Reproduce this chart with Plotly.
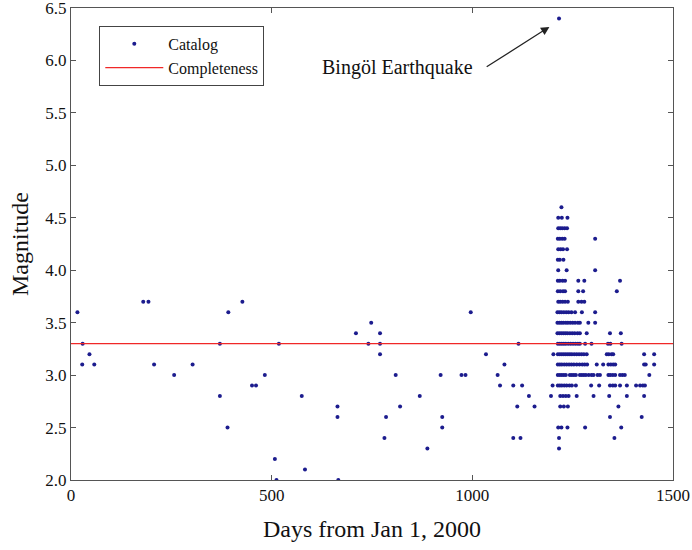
import plotly.graph_objects as go

# Scattered events before the main shock: (day, magnitude)
early_days = [16, 28, 29, 46, 58, 180, 193, 207, 257, 303, 371, 371, 390, 392, 427,
              451, 461, 483, 508, 512, 518, 575, 583, 664, 664, 666, 710, 741, 748,
              770, 770, 770, 781, 785, 809, 820, 869, 888, 921, 925, 925, 973, 983,
              996, 1034, 1063, 1069, 1080, 1102, 1102, 1112, 1115, 1120, 1124, 1141, 1155]
early_mags = [3.6, 3.1, 3.3, 3.2, 3.1, 3.7, 3.7, 3.1, 3.0, 3.1, 3.3, 2.8, 2.5, 3.6, 3.7,
              2.9, 2.9, 3.0, 2.2, 2.0, 3.3, 2.8, 2.1, 2.7, 2.6, 2.0, 3.4, 3.3, 3.5,
              3.4, 3.3, 3.2, 2.4, 2.6, 3.0, 2.7, 2.8, 2.3, 3.0, 2.6, 2.5, 3.0, 3.0,
              3.6, 3.2, 3.0, 2.9, 3.1, 2.9, 2.4, 2.7, 3.3, 2.4, 2.9, 2.8, 2.7]

# Main shock
main_day = [1216]
main_mag = [6.4]

# Aftershock sequence, grouped by magnitude bin
seq_rows = {
    4.6: [1222],
    4.5: [1214, 1223, 1237],
    4.4: [1214, 1219, 1224, 1230, 1236],
    4.3: [1213, 1218, 1224, 1230, 1306],
    4.2: [1214, 1220, 1226, 1236],
    4.1: [1213, 1218, 1227],
    4.0: [1214, 1235, 1306],
    3.9: [1213, 1218, 1225, 1231, 1264, 1279, 1368],
    3.8: [1213, 1219, 1226, 1231, 1264, 1276, 1360],
    3.7: [1214, 1219, 1225, 1231, 1238, 1264, 1272, 1279],
    3.6: [1212, 1217, 1222, 1228, 1234, 1240, 1247, 1256, 1273, 1306],
    3.5: [1212, 1217, 1222, 1227, 1233, 1238, 1244, 1250, 1256, 1263, 1268, 1289, 1306],
    3.4: [1212, 1217, 1222, 1227, 1232, 1237, 1243, 1249, 1255, 1262, 1268, 1285, 1343, 1370],
    3.3: [1213, 1218, 1223, 1228, 1233, 1239, 1245, 1251, 1257, 1263, 1268, 1281, 1297,
          1338, 1344, 1372],
    3.2: [1202, 1213, 1218, 1223, 1228, 1233, 1238, 1243, 1248, 1254, 1260, 1266, 1272,
          1278, 1285, 1335, 1340, 1347, 1351, 1428, 1453],
    3.1: [1213, 1218, 1223, 1229, 1235, 1241, 1247, 1253, 1260, 1267, 1274, 1280, 1286,
          1310, 1326, 1339, 1345, 1351, 1356, 1428, 1432, 1453],
    3.0: [1213, 1218, 1223, 1228, 1233, 1243, 1248, 1253, 1258, 1268, 1273, 1278, 1283,
          1290, 1297, 1302, 1312, 1318, 1339, 1344, 1350, 1356, 1368, 1374, 1380, 1441],
    2.9: [1200, 1213, 1218, 1223, 1229, 1235, 1242, 1248, 1258, 1296, 1316, 1343, 1350,
          1356, 1368, 1385, 1408, 1418, 1425, 1430],
    2.8: [1196, 1219, 1226, 1233, 1240, 1260, 1302, 1341, 1385, 1428],
    2.7: [1219, 1228, 1238, 1364],
    2.6: [1343, 1422],
    2.5: [1214, 1222, 1237, 1281, 1371],
    2.4: [1216, 1354],
    2.3: [1216],
}

completeness = 3.3
x_ticks = [0, 500, 1000, 1500]
y_ticks = [2.0, 2.5, 3.0, 3.5, 4.0, 4.5, 5.0, 5.5, 6.0, 6.5]

seq_days = [d for m, ds in seq_rows.items() for d in ds]
seq_mags = [m for m, ds in seq_rows.items() for _ in ds]

all_days = early_days + main_day + seq_days
all_mags = early_mags + main_mag + seq_mags

serif = "Liberation Serif, Times New Roman, serif"
dot_color = "#1c1c8e"

fig = go.Figure()
fig.add_trace(go.Scatter(
    x=all_days, y=all_mags, mode="markers", name="Catalog",
    marker=dict(size=4, color=dot_color),
))
fig.add_trace(go.Scatter(
    x=[0, 1500], y=[completeness, completeness], mode="lines", name="Completeness",
    line=dict(color="#f02828", width=1.3),
))

# Label and arrow pointing at the main shock
fig.add_annotation(
    x=813, y=5.93, xref="x", yref="y", text="Bingöl Earthquake",
    showarrow=False, font=dict(family=serif, size=20, color="#111"),
)
fig.add_annotation(
    x=1192, y=6.32, xref="x", yref="y", ax=1032, ay=5.93, axref="x", ayref="y",
    text="", showarrow=True, arrowhead=2, arrowsize=1.4, arrowwidth=1.2,
    arrowcolor="#222",
)

axis_common = dict(
    showgrid=False, zeroline=False, showline=True, linecolor="#555", linewidth=1,
    mirror="ticks", ticks="inside", ticklen=5, tickcolor="#555",
    tickfont=dict(family=serif, size=17, color="#111"),
    ticklabeloverflow="allow", automargin=False,
)

fig.update_layout(
    width=692, height=550,
    margin=dict(l=71, r=19, t=8, b=70),
    paper_bgcolor="white", plot_bgcolor="white",
    showlegend=True,
    legend=dict(
        x=0.047, y=0.962, xanchor="left", yanchor="top",
        bgcolor="white", bordercolor="#444", borderwidth=1,
        font=dict(family=serif, size=16, color="#111"),
        itemwidth=58, tracegroupgap=0,
    ),
    xaxis=dict(
        range=[0, 1500], tickvals=x_ticks,
        title=dict(text="Days from Jan 1, 2000", font=dict(family=serif, size=24, color="#111"),
                   standoff=15),
        **axis_common,
    ),
    yaxis=dict(
        range=[2.0, 6.5], tickvals=y_ticks, tickformat=".1f",
        title=dict(text="Magnitude", font=dict(family=serif, size=24, color="#111"),
                   standoff=9),
        **axis_common,
    ),
)

fig.write_html("out.html")
